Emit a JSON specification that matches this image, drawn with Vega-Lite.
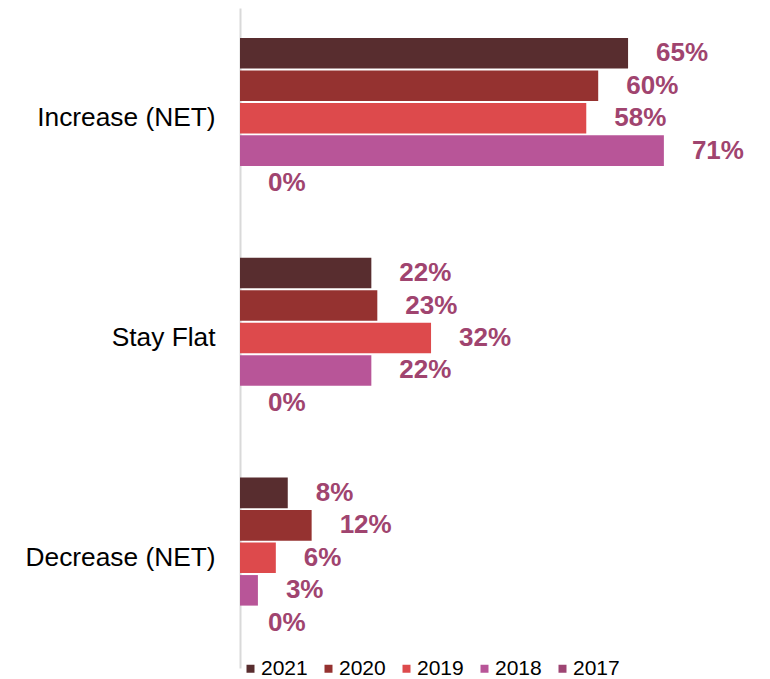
{
  "$schema": "https://vega.github.io/schema/vega-lite/v6.json",
  "width": 520,
  "height": 660,
  "padding": {"left": 5, "top": 8, "right": 5, "bottom": 5},
  "background": "white",
  "config": {"view": {"stroke": null}, "font": "Liberation Sans"},
  "data": {
    "values": [
      {"category": "Increase (NET)", "year": "2021", "value": 0.65},
      {"category": "Increase (NET)", "year": "2020", "value": 0.60},
      {"category": "Increase (NET)", "year": "2019", "value": 0.58},
      {"category": "Increase (NET)", "year": "2018", "value": 0.71},
      {"category": "Increase (NET)", "year": "2017", "value": 0},
      {"category": "Stay Flat", "year": "2021", "value": 0.22},
      {"category": "Stay Flat", "year": "2020", "value": 0.23},
      {"category": "Stay Flat", "year": "2019", "value": 0.32},
      {"category": "Stay Flat", "year": "2018", "value": 0.22},
      {"category": "Stay Flat", "year": "2017", "value": 0},
      {"category": "Decrease (NET)", "year": "2021", "value": 0.08},
      {"category": "Decrease (NET)", "year": "2020", "value": 0.12},
      {"category": "Decrease (NET)", "year": "2019", "value": 0.06},
      {"category": "Decrease (NET)", "year": "2018", "value": 0.03},
      {"category": "Decrease (NET)", "year": "2017", "value": 0}
    ]
  },
  "encoding": {
    "y": {
      "field": "category",
      "type": "nominal",
      "sort": ["Increase (NET)", "Stay Flat", "Decrease (NET)"],
      "scale": {"paddingInner": 0.27, "paddingOuter": 0.136},
      "axis": {
        "title": null,
        "ticks": false,
        "labelFontSize": 26.3,
        "labelColor": "#000000",
        "labelPadding": 25,
        "labelLimit": 300,
        "minExtent": 235,
        "domainColor": "#D9D9D9",
        "domainWidth": 2
      }
    },
    "yOffset": {
      "field": "year",
      "type": "nominal",
      "sort": ["2021", "2020", "2019", "2018", "2017"],
      "scale": {"paddingInner": 0.06, "paddingOuter": 0}
    },
    "x": {
      "field": "value",
      "type": "quantitative",
      "scale": {"domain": [0, 0.871], "nice": false},
      "axis": null
    }
  },
  "layer": [
    {
      "mark": {"type": "bar"},
      "encoding": {
        "color": {
          "field": "year",
          "type": "nominal",
          "scale": {
            "domain": ["2021", "2020", "2019", "2018", "2017"],
            "range": ["#582D2F", "#953230", "#DD4A4C", "#B85598", "#9E4573"]
          },
          "legend": {
            "title": null,
            "orient": "bottom",
            "direction": "horizontal",
            "offset": -10,
            "symbolType": "square",
            "symbolSize": 64,
            "symbolStrokeWidth": 0,
            "labelFontSize": 21,
            "labelColor": "#000000",
            "labelOffset": 0,
            "columnPadding": 10,
            "padding": 0
          }
        }
      }
    },
    {
      "mark": {
        "type": "text",
        "align": "left",
        "baseline": "middle",
        "dx": 28,
        "fontSize": 26,
        "fontWeight": "bold",
        "color": "#A0446F"
      },
      "encoding": {
        "text": {"field": "value", "type": "quantitative", "format": ".0%"}
      }
    }
  ]
}
